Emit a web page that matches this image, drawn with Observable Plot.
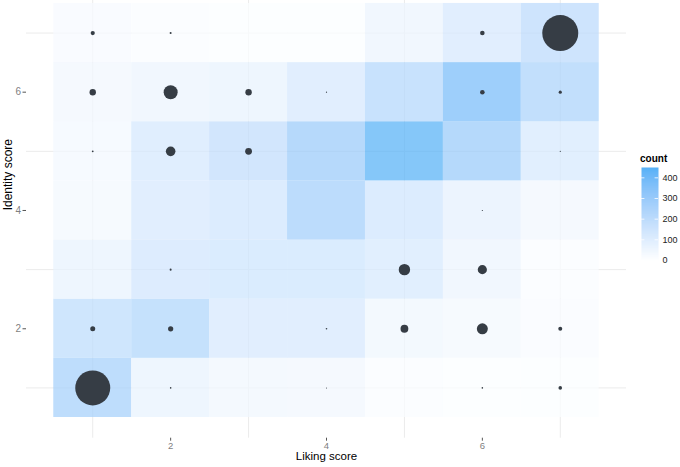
<!DOCTYPE html>
<html><head><meta charset="utf-8">
<script src="https://cdn.jsdelivr.net/npm/d3@7"></script>
<script src="https://cdn.jsdelivr.net/npm/@observablehq/plot@0.6"></script>
<style>
body{margin:0;background:#fff;font-family:"Liberation Sans",Arial,sans-serif;}
#wrap{position:relative;width:680px;height:467px;}
#legend{position:absolute;left:641px;top:167px;}
#legtitle{position:absolute;left:640px;top:153px;font-size:10px;font-weight:bold;color:#000;}
</style></head><body>
<div id="wrap"><div id="chart"></div><div id="legtitle">count</div><div id="legend"></div></div>
<script>
// Liking score (x) and Identity score (y) categories
const likingScores = [1, 2, 3, 4, 5, 6, 7];
const identityScores = [1, 2, 3, 4, 5, 6, 7];

// Tile counts, one array per identity score (columns = liking 1..7)
const countIdentity1 = [268, 74, 48, 44, 15, 11, 11];
const countIdentity2 = [200, 240, 129, 129, 52, 41, 22];
const countIdentity3 = [74, 144, 155, 155, 126, 63, 15];
const countIdentity4 = [41, 129, 148, 277, 148, 85, 44];
const countIdentity5 = [37, 133, 192, 296, 450, 303, 126];
const countIdentity6 = [44, 63, 74, 129, 229, 381, 251];
const countIdentity7 = [26, 15, 12, 12, 63, 129, 207];

// Point sizes (relative), one array per identity score
const sizeIdentity1 = [94.5, 0.2, 0, 0.08, 0, 0.2, 1.0];
const sizeIdentity2 = [1.93, 2.09, 0, 0.2, 4.7, 9.3, 1.23];
const sizeIdentity3 = [0, 0.31, 0, 0, 10.0, 6.5, 0];
const sizeIdentity4 = [0, 0, 0, 0, 0, 0.11, 0];
const sizeIdentity5 = [0.25, 7.1, 3.57, 0, 0, 0, 0.11];
const sizeIdentity6 = [3.16, 15.1, 3.16, 0.11, 0, 1.63, 0.79];
const sizeIdentity7 = [1.36, 0.31, 0, 0, 0, 1.63, 100];

const xTicks = [2, 4, 6];
const yTicks = [2, 4, 6];
const gridValues = [1, 3, 5, 7];
const legendTicks = [0, 100, 200, 300, 400];

const countRows = [countIdentity1, countIdentity2, countIdentity3, countIdentity4, countIdentity5, countIdentity6, countIdentity7];
const sizeRows = [sizeIdentity1, sizeIdentity2, sizeIdentity3, sizeIdentity4, sizeIdentity5, sizeIdentity6, sizeIdentity7];

const tiles = identityScores.flatMap((y, i) => likingScores.map((x, j) => ({
  x, y, count: countRows[i][j], size: sizeRows[i][j]
})));

const font = '"Liberation Sans", Arial, sans-serif';
const color = {type: "linear", domain: [0, 450], range: ["#ffffff", "#56B1F7"], interpolate: "lab"};
const fmt = d3.format("d");

const chart = Plot.plot({
  width: 680, height: 467,
  marginLeft: 26, marginRight: 54, marginTop: 0, marginBottom: 29.3,
  x: {domain: [0.15, 7.85], label: null},
  y: {domain: [0.15, 7.55], label: null},
  color,
  r: {type: "sqrt", domain: [0, 100], range: [0, 18]},
  style: {fontFamily: font, fontSize: "10px", background: "#fff"},
  marks: [
    Plot.gridX(gridValues, {stroke: "#ebebeb", strokeOpacity: 1, strokeWidth: 1}),
    Plot.gridY(gridValues, {stroke: "#ebebeb", strokeOpacity: 1, strokeWidth: 1}),
    Plot.rect(tiles, {x1: d => d.x - 0.5, x2: d => d.x + 0.5, y1: d => d.y - 0.5, y2: d => d.y + 0.5, fill: "count", fillOpacity: 0.72}),
    Plot.dot(tiles.filter(d => d.size > 0), {x: "x", y: "y", r: "size", fill: "#363d45"}),
    Plot.axisX(xTicks, {tickSize: 3, tickPadding: 1, tickFormat: fmt, stroke: "#555", fill: "#7f7f7f", label: null, fontSize: 9.5}),
    Plot.axisY(yTicks, {tickSize: 3.5, tickPadding: 2, tickFormat: fmt, stroke: "#555", fill: "#7f7f7f", label: null, fontSize: 10}),
    Plot.text(["Liking score"], {frameAnchor: "bottom", text: d => d, dy: 22, fontSize: 11.5, fill: "#000"}),
    Plot.text(["Identity score"], {frameAnchor: "left", text: d => d, rotate: -90, dx: -18, dy: -9, fontSize: 12, fill: "#000"})
  ]
});
document.getElementById("chart").append(chart);

const legend = Plot.plot({
  width: 39, height: 93,
  marginLeft: 0, marginRight: 22, marginTop: 0, marginBottom: 0,
  x: {domain: [0, 1], axis: null},
  y: {domain: [0, 450], label: null},
  color,
  style: {fontFamily: font, fontSize: "9px", background: "transparent", overflow: "visible"},
  marks: [
    Plot.raster({x1: 0, x2: 1, y1: 0, y2: 450, width: 1, height: 120, fill: (x, y) => y, imageRendering: "auto"}),
    Plot.ruleY(legendTicks, {x1: 0, x2: 0.2, stroke: "white", strokeWidth: 0.8}),
    Plot.ruleY(legendTicks, {x1: 0.8, x2: 1, stroke: "white", strokeWidth: 0.8}),
    Plot.axisY(legendTicks, {anchor: "right", tickSize: 0, tickPadding: 4, tickFormat: fmt, fill: "#222", label: null, fontSize: 9})
  ]
});
document.getElementById("legend").append(legend);
</script>
</body></html>
